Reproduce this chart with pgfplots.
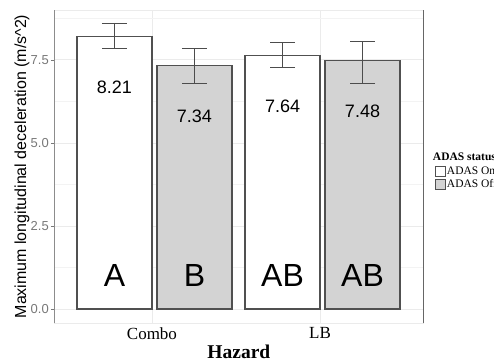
\documentclass[border=0pt]{standalone}
\usepackage{pgfplots}
\pgfplotsset{compat=1.18}
\usepackage{fontspec}
\setmainfont{Liberation Serif}
\newfontfamily\arial{Liberation Sans}
\definecolor{offfill}{RGB}{211,211,211}
\definecolor{barline}{RGB}{80,80,80}
\definecolor{gridc}{RGB}{235,235,235}
\definecolor{tickc}{RGB}{120,120,120}

\pgfplotstableread{
x     y     ep    em
0.777 8.21  0.40  0.38
1.777 7.64  0.38  0.38
}\dataOn
\pgfplotstableread{
x     y     ep    em
1.253 7.34  0.50  0.56
2.253 7.48  0.58  0.70
}\dataOff

\begin{document}
\begin{tikzpicture}
\path[use as bounding box] (0,0) rectangle (494pt,362pt);
\begin{axis}[
  at={(54pt,39pt)}, anchor=south west,
  scale only axis, width=369pt, height=313pt,
  xmin=0.417, xmax=2.613, ymin=-0.42, ymax=9.0,
  xtick={1,2}, xticklabels={Combo,LB},
  ytick={0,2.5,5,7.5}, yticklabels={0.0,2.5,5.0,7.5},
  minor ytick={1.25,3.75,6.25,8.75},
  ytick pos=left,
  grid=both,
  major grid style={gridc, line width=0.8pt},
  minor grid style={gridc!60, line width=0.5pt},
  tick align=outside, major tick length=3pt, minor tick length=0pt,
  tick style={tickc, line width=0.6pt},
  xtick style={draw=none},
  axis line style={gridc, line width=0.8pt},
  xticklabel style={font=\fontsize{17}{17}\selectfont, inner sep=1pt},
  yticklabel style={font=\arial\fontsize{13}{13}\selectfont, text=tickc, inner sep=2pt},
  ylabel={Maximum longitudinal deceleration (m/s\textasciicircum 2)},
  ylabel style={font=\arial\fontsize{16}{16}\selectfont, at={(axis description cs:-0.0867,0.5)}, anchor=center, rotate=0},
  xlabel={\textbf{Hazard}},
  xlabel style={font=\fontsize{19.5}{19.5}\selectfont, at={(axis description cs:0.501,-0.0927)}, anchor=center},
  legend style={at={(axis description cs:1.0325,0.503)}, anchor=north west, draw=none, fill=none,
    font=\fontsize{11.5}{11.5}\selectfont, inner sep=0pt, row sep=2pt,
    nodes={inner sep=1pt}},
  legend cell align=left,
  legend image code/.code={\draw[#1, line width=0.8pt] (0pt,-5pt) rectangle (10pt,5pt);},
  clip=false,
]
\addplot[ybar, bar width=0.446, bar shift=0pt, fill=white, draw=barline, line width=1.2pt,
  error bars/.cd, y dir=both, y explicit,
  error bar style={black!70, line width=0.8pt},
  error mark options={black!70, rotate=90, mark size=12.5pt, line width=0.8pt}]
  table[x=x, y=y, y error plus=ep, y error minus=em] {\dataOn};
\addlegendentry{ADAS On}
\addplot[ybar, bar width=0.446, bar shift=0pt, fill=offfill, draw=barline, line width=1.2pt,
  error bars/.cd, y dir=both, y explicit,
  error bar style={black!70, line width=0.8pt},
  error mark options={black!70, rotate=90, mark size=12.5pt, line width=0.8pt}]
  table[x=x, y=y, y error plus=ep, y error minus=em] {\dataOff};
\addlegendentry{ADAS Off}
\draw[black!45, line width=1pt] (rel axis cs:0,0) -- (rel axis cs:0,1);
\draw[black!60, line width=1pt] (rel axis cs:1,0) -- (rel axis cs:1,1);
\node[font=\arial\fontsize{18}{18}\selectfont] at (axis cs:0.777,6.67) {8.21};
\node[font=\arial\fontsize{18}{18}\selectfont] at (axis cs:1.253,5.81) {7.34};
\node[font=\arial\fontsize{18}{18}\selectfont] at (axis cs:1.777,6.11) {7.64};
\node[font=\arial\fontsize{18}{18}\selectfont] at (axis cs:2.253,5.96) {7.48};
\node[font=\arial\fontsize{32}{32}\selectfont] at (axis cs:0.777,1.02) {A};
\node[font=\arial\fontsize{32}{32}\selectfont] at (axis cs:1.253,1.02) {B};
\node[font=\arial\fontsize{32}{32}\selectfont] at (axis cs:1.777,1.02) {AB};
\node[font=\arial\fontsize{32}{32}\selectfont] at (axis cs:2.253,1.02) {AB};
\node[anchor=west, inner sep=0pt, font=\bfseries\fontsize{11.5}{11.5}\selectfont] at (axis description cs:1.0265,0.53) {ADAS status};
\end{axis}
\end{tikzpicture}
\end{document}
